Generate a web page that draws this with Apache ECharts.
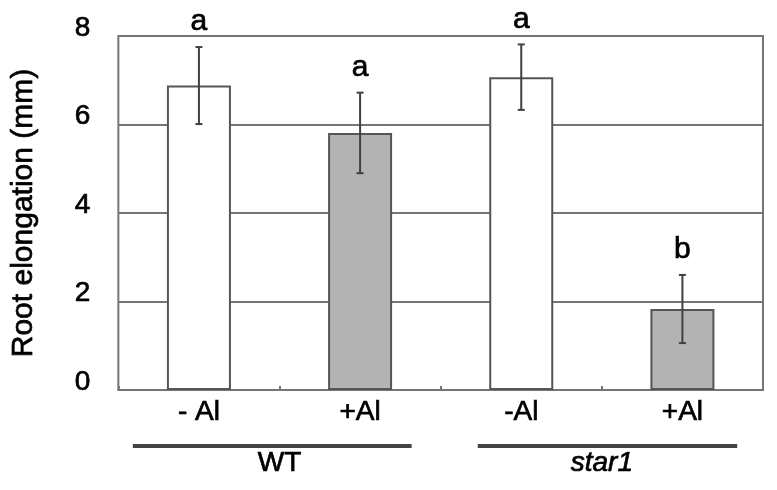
<!DOCTYPE html>
<html>
<head>
<meta charset="utf-8">
<script src="https://cdn.jsdelivr.net/npm/echarts@6/dist/echarts.min.js"></script>
<style>html,body{margin:0;padding:0;background:#fff}#c{width:777px;height:490px}</style>
</head>
<body>
<div id="c"></div>
<script>
// ---- data ----
var categories = ['- Al', '+Al', '-Al', '+Al'];
var means = [6.88, 5.81, 7.07, 1.83];
var errors = [0.87, 0.91, 0.74, 0.77];
var letters = ['a', 'a', 'a', 'b'];
var groupNames = ['WT', 'star1'];
var groupStart = [0, 2];
var groupEnd = [1, 3];
var yTicks = [0, 2, 4, 6, 8];

// ---- style ----
var FONT = '"Liberation Sans", Arial, sans-serif';
var lineGray = '#757575';
var barFills = ['#ffffff', '#b3b3b3', '#ffffff', '#b3b3b3'];
var groupExt = [[0.41, 0.32], [0.27, 0.34]];
var thick = { textBorderColor: '#000', textBorderWidth: 0.7 };

var chart = echarts.init(document.getElementById('c'));

var barData = means.map(function (v, i) {
  return { value: v, itemStyle: { color: barFills[i] } };
});
var errData = means.map(function (v, i) { return [i, v, errors[i]]; });
var groupData = groupNames.map(function (n, i) { return [groupStart[i], groupEnd[i]]; });

chart.setOption({
  animation: false,
  grid: {
    left: 118, right: 14, top: 36, bottom: 100,
    show: true, borderColor: lineGray, borderWidth: 2, backgroundColor: 'transparent'
  },
  xAxis: {
    type: 'category',
    data: categories,
    axisLine: { show: true, lineStyle: { color: lineGray, width: 2 } },
    axisTick: { show: true, inside: true, length: 4, lineStyle: { color: lineGray, width: 2 } },
    axisLabel: Object.assign({ color: '#000', fontFamily: FONT, fontSize: 28, margin: 8 }, thick)
  },
  yAxis: {
    type: 'value',
    min: yTicks[0], max: yTicks[yTicks.length - 1], interval: 2,
    name: 'Root elongation (mm)',
    nameLocation: 'middle',
    nameGap: 80,
    nameTextStyle: Object.assign({ color: '#000', fontFamily: FONT, fontSize: 30 }, thick),
    axisLine: { show: false },
    axisTick: { show: false },
    splitLine: { show: true, lineStyle: { color: lineGray, width: 2 } },
    axisLabel: Object.assign({ color: '#000', fontFamily: FONT, fontSize: 28, margin: 28,
                 verticalAlign: 'bottom', lineHeight: 16 }, thick)
  },
  series: [
    {
      type: 'bar',
      data: barData,
      barWidth: 64,
      itemStyle: { borderColor: '#555', borderWidth: 2 },
      z: 3
    },
    {
      type: 'custom',
      data: errData,
      clip: false,
      z: 5,
      renderItem: function (params, api) {
        var x = api.value(0), m = api.value(1), e = api.value(2);
        var top = api.coord([x, m + e]);
        var bot = api.coord([x, m - e]);
        var cap = 3.5;
        var st = { stroke: '#404040', lineWidth: 2 };
        return {
          type: 'group',
          children: [
            { type: 'line', shape: { x1: top[0], y1: top[1], x2: bot[0], y2: bot[1] }, style: st },
            { type: 'line', shape: { x1: top[0] - cap, y1: top[1], x2: top[0] + cap, y2: top[1] }, style: st },
            { type: 'line', shape: { x1: bot[0] - cap, y1: bot[1], x2: bot[0] + cap, y2: bot[1] }, style: st },
            { type: 'text', x: top[0], y: top[1] - 10,
              style: { text: letters[params.dataIndex], fill: '#000', font: '30px ' + FONT,
                       stroke: '#000', lineWidth: 0.7,
                       textAlign: 'center', textVerticalAlign: 'bottom' } }
          ]
        };
      }
    },
    {
      type: 'custom',
      data: groupData,
      clip: false,
      z: 5,
      renderItem: function (params, api) {
        var s = api.value(0), e = api.value(1);
        var band = api.size([1, 0])[0];
        var p0 = api.coord([s, 0]);
        var p1 = api.coord([e, 0]);
        var ext = groupExt[params.dataIndex];
        var x1 = p0[0] - ext[0] * band, x2 = p1[0] + ext[1] * band;
        var y = p0[1] + 56;
        return {
          type: 'group',
          children: [
            { type: 'line', shape: { x1: x1, y1: y, x2: x2, y2: y }, style: { stroke: '#444', lineWidth: 4 } },
            { type: 'text', x: (p0[0] + p1[0]) / 2, y: y + 17,
              style: { text: groupNames[params.dataIndex], fill: '#000',
                       stroke: '#000', lineWidth: 0.7,
                       font: (params.dataIndex === 1 ? 'italic ' : '') + '28px ' + FONT,
                       textAlign: 'center', textVerticalAlign: 'middle' } }
          ]
        };
      }
    }
  ]
});
</script>
</body>
</html>
